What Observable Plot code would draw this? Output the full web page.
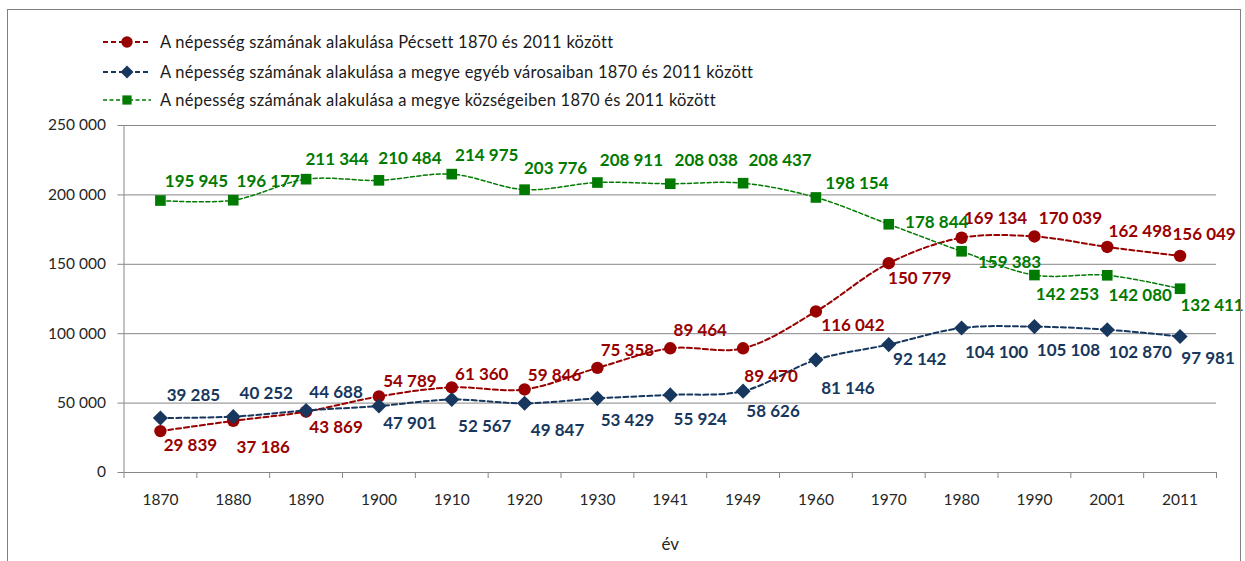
<!DOCTYPE html>
<html>
<head>
<meta charset="utf-8">
<script src="https://cdn.jsdelivr.net/npm/d3@7"></script>
<script src="https://cdn.jsdelivr.net/npm/@observablehq/plot@0.6"></script>
<style>
  html, body { margin: 0; padding: 0; background: #fff; overflow: hidden; width: 1245px; height: 561px; }
  #frame { position: absolute; left: 7px; top: 9px; width: 1232px; height: 600px; border: 1.5px solid #808080; pointer-events: none; }
  #legend { position: absolute; left: 0; top: 0; width: 1245px; height: 110px; font-family: Lato, sans-serif; font-size: 16.5px; letter-spacing: 0.25px; color: #1a1a1a; }
  .lrow { position: absolute; left: 102px; height: 20px; display: flex; align-items: center; white-space: nowrap; }
  .lrow svg { margin-right: 8px; }
  #chart { position: absolute; left: 0; top: 110px; }
</style>
</head>
<body>
<div id="legend"></div>
<div id="chart"></div>
<div id="frame"></div>
<script>
// ---- data ----
const years = ["1870","1880","1890","1900","1910","1920","1930","1941","1949","1960","1970","1980","1990","2001","2011"];
const pecs     = [29839, 37186, 43869, 54789, 61360, 59846, 75358, 89464, 89470, 116042, 150779, 169134, 170039, 162498, 156049];
const varosok  = [39285, 40252, 44688, 47901, 52567, 49847, 53429, 55924, 58626, 81146, 92142, 104100, 105108, 102870, 97981];
const kozsegek = [195945, 196177, 211344, 210484, 214975, 203776, 208911, 208038, 208437, 198154, 178844, 159383, 142253, 142080, 132411];
const seriesNames = [
  "A népesség számának alakulása Pécsett 1870 és 2011 között",
  "A népesség számának alakulása a megye egyéb városaiban 1870 és 2011 között",
  "A népesség számának alakulása a megye községeiben 1870 és 2011 között"
];
const yTicks = [0, 50000, 100000, 150000, 200000, 250000];
const xTitle = "év";

// ---- label placement (pixel offsets from each point) ----
const pecsOff = [[30,14],[30,27],[30,16],[31,-15],[30,-13],[30,-14],[30,-17],[30,-18],[28,28],[37,14],[31,15],[34,-19],[36,-18],[33,-15],[24,-21]];
const varOff  = [[33,-22],[33,-23],[30,-18],[31,18],[33,27],[33,27],[30,22],[30,25],[30,20],[32,29],[31,15],[35,25],[34,24],[33,23],[28,22]];
const kozOff  = [[36,-19],[35,-19],[31,-20],[31,-22],[35,-19],[31,-21],[34,-22],[36,-23],[37,-23],[41,-14],[48,-2],[48,11],[33,19],[33,20],[32,17]];

// ---- styles ----
const styles = [
  {color: "#990000", symbol: "circle", r: 6.2, width: 2, dash: "5,3"},
  {color: "#17375E", symbol: "diamond2", r: 6.8, width: 2, dash: "5,3"},
  {color: "#007A00", symbol: "square", r: 6, width: 1.5, dash: "4,2.5"}
];
const allValues = [pecs, varosok, kozsegek];
const allOffsets = [pecsOff, varOff, kozOff];

const fmtSp = v => d3.format(",")(v).replace(/,/g, " ");

// ---- legend ----
const legend = document.getElementById("legend");
const rowY = [32, 62, 90];
seriesNames.forEach((name, k) => {
  const st = styles[k];
  const row = document.createElement("div");
  row.className = "lrow";
  row.style.top = rowY[k] + "px";
  const sym = d3.symbol(st.symbol === "circle" ? d3.symbolCircle : st.symbol === "square" ? d3.symbolSquare : d3.symbolDiamond2, Math.PI * st.r * st.r * (st.symbol === "circle" ? 0.85 : 0.75))();
  row.innerHTML = `<svg width="50" height="20"><line x1="1" x2="49" y1="10" y2="10" stroke="${st.color}" stroke-width="${st.width}" stroke-dasharray="${st.dash}"/><path d="${sym}" transform="translate(25,10)" fill="${st.color}"/></svg><span>${name}</span>`;
  legend.appendChild(row);
});

// ---- rows ----
const rows = [];
allValues.forEach((vals, k) => vals.forEach((v, i) => rows.push({s: k, i, v, dx: allOffsets[k][i][0], dy: allOffsets[k][i][1]})));
const idx = years.map((_, i) => i);
const bounds = years.map((_, i) => i - 0.5).concat([years.length - 0.5]);

const marks = [
  Plot.ruleY(yTicks, {stroke: "#868686", strokeWidth: 1}),
  Plot.ruleX([-0.5], {y1: 0, y2: yTicks[yTicks.length - 1], stroke: "#868686"}),
  Plot.axisY(yTicks, {tickSize: 6, tickPadding: 12, tickFormat: fmtSp, stroke: "#868686", fill: "#262626", fontSize: 15.5, label: null}),
  Plot.axisX(bounds, {tickSize: 6, tickFormat: () => "", stroke: "#868686", label: null}),
  Plot.axisX(idx, {tickSize: 0, tickPadding: 21, tickFormat: i => years[i], fill: "#262626", fontSize: 15.5, label: null}),
  Plot.text([xTitle], {frameAnchor: "bottom", dy: 77, fontSize: 17, fill: "#262626"})
];
styles.forEach((st, k) => {
  const d = rows.filter(r => r.s === k);
  marks.push(Plot.line(d, {x: "i", y: "v", stroke: st.color, strokeWidth: st.width, strokeDasharray: st.dash, curve: "catmull-rom"}));
});
styles.forEach((st, k) => {
  const d = rows.filter(r => r.s === k);
  marks.push(Plot.dot(d, {x: "i", y: "v", symbol: () => st.symbol, r: st.r, fill: st.color, stroke: "none"}));
});
styles.forEach((st, k) => {
  const d = rows.filter(r => r.s === k);
  d.forEach(r => marks.push(Plot.text([r], {x: "i", y: "v", text: r => fmtSp(r.v), dx: r.dx, dy: r.dy, fill: st.color, fontWeight: "bold", fontSize: 17})));
});

const chart = Plot.plot({
  width: 1245,
  height: 451,
  marginLeft: 123.5,
  marginRight: 29,
  marginTop: 15,
  marginBottom: 89,
  x: {domain: [-0.5, years.length - 0.5], axis: null},
  y: {domain: [0, 250000], axis: null},
  style: {fontFamily: "Lato, sans-serif", background: "transparent", overflow: "visible"},
  marks
});
document.getElementById("chart").appendChild(chart);
</script>
</body>
</html>
